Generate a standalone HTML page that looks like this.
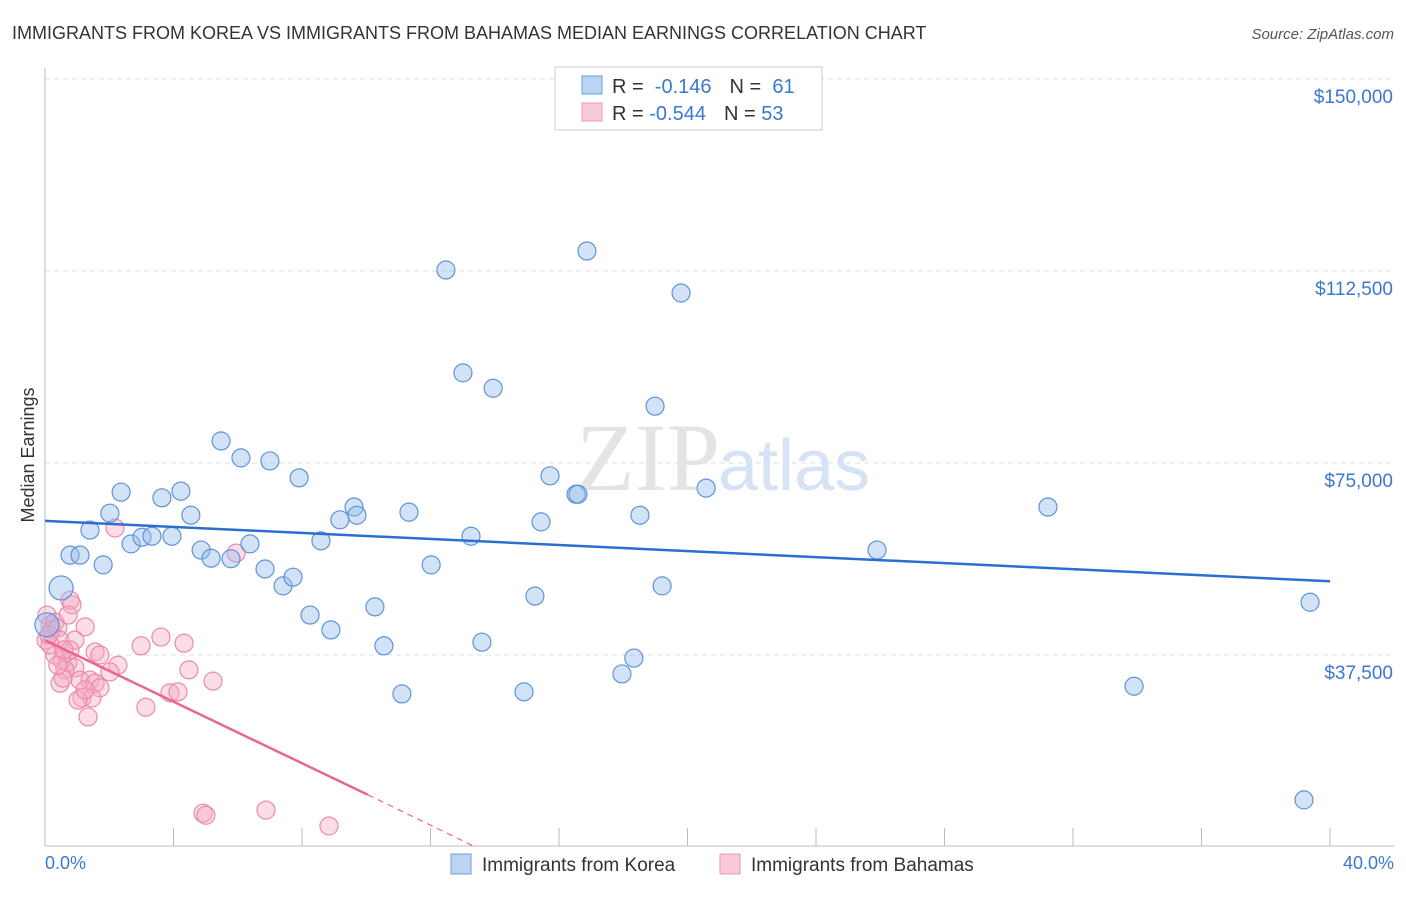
<!DOCTYPE html>
<html><head><meta charset="utf-8"><style>
body{margin:0;background:#fff;font-family:"Liberation Sans",sans-serif;}
</style></head><body>
<svg width="1406" height="892" xmlns="http://www.w3.org/2000/svg" font-family="Liberation Sans, sans-serif">
<text x="12" y="39" font-size="18" fill="#333">IMMIGRANTS FROM KOREA VS IMMIGRANTS FROM BAHAMAS MEDIAN EARNINGS CORRELATION CHART</text>
<text x="1394" y="39" font-size="15" fill="#555" font-style="italic" text-anchor="end">Source: ZipAtlas.com</text>
<g id="grid"></g>
<text x="720" y="490" font-size="96" fill="#e4e4e4" text-anchor="end" font-family="Liberation Serif, serif">ZIP</text>
<text x="718" y="490" font-size="72" fill="#d5e3f5">atlas</text>
<g id="pts"></g>
<g id="lines"></g>
<text transform="translate(34,455) rotate(-90)" font-size="18" fill="#333" text-anchor="middle">Median Earnings</text>
<text x="45" y="869" font-size="18" fill="#3b78d0">0.0%</text>
<text x="1394" y="869" font-size="18" fill="#3b78d0" text-anchor="end">40.0%</text>
<g>
<rect x="555" y="67" width="267" height="63" fill="#fff" stroke="#ccc"/>
<rect x="582" y="76" width="20" height="18" fill="#bcd4f3" stroke="#6c9be0"/>
<rect x="582" y="103" width="20" height="18" fill="#fbcad9" stroke="#ee95b2"/>
<text x="612" y="93" font-size="20" fill="#333">R = <tspan fill="#3b78d0">&#160;-0.146</tspan><tspan dx="18">N = </tspan><tspan fill="#3b78d0">&#160;61</tspan></text>
<text x="612" y="120" font-size="20" fill="#333">R = <tspan fill="#3b78d0">-0.544</tspan><tspan dx="18">N = </tspan><tspan fill="#3b78d0">53</tspan></text>
</g>
<g>
<rect x="451" y="854" width="20" height="20" fill="#bcd4f3" stroke="#6c9be0"/>
<text x="482" y="871" font-size="19" fill="#333">Immigrants from Korea</text>
<rect x="720" y="854" width="20" height="20" fill="#fbcad9" stroke="#ee95b2"/>
<text x="751" y="871" font-size="19" fill="#333">Immigrants from Bahamas</text>
</g>
</svg>
<script>
const yTicks=[37500,75000,112500,150000];
const yTickLabels=["$37,500","$75,000","$112,500","$150,000"];
const koreaX=[0.50,0.06,0.78,1.09,1.81,1.40,2.02,2.37,2.68,3.02,3.33,3.64,3.95,4.23,4.54,4.86,5.17,5.48,5.79,6.10,6.38,6.85,7.00,7.41,7.72,7.91,8.25,8.59,8.90,9.18,9.62,9.71,10.27,10.55,11.11,11.33,12.02,12.48,13.01,13.26,13.60,13.95,14.91,15.25,15.44,15.72,16.53,16.59,16.87,17.96,18.33,18.52,18.99,19.21,19.80,20.58,25.90,31.22,33.90,39.19,39.38];
const koreaY=[50.6,43.4,57.0,57.0,55.1,61.9,65.2,69.3,59.2,60.5,60.7,68.2,60.7,69.5,64.8,58.0,56.4,79.3,56.3,76.0,59.2,54.3,75.4,51.0,52.7,72.1,45.3,59.8,42.4,63.9,66.4,64.8,46.9,39.3,29.9,65.4,55.1,112.7,92.6,60.7,40.0,89.6,30.3,49.0,63.5,72.5,68.9,68.9,116.4,33.8,36.9,64.8,86.1,51.0,108.2,70.1,58.0,66.4,31.4,9.2,47.8];
const bahamasX=[0.06,0.16,0.22,0.31,0.40,0.03,0.47,0.78,0.84,0.72,1.25,0.93,0.31,0.53,0.72,0.93,0.62,1.09,1.40,1.56,1.71,1.15,1.46,1.03,1.34,0.47,0.56,0.78,1.56,2.27,2.18,2.99,3.14,3.61,3.89,4.14,4.33,4.48,5.23,5.95,4.92,5.01,6.88,8.84,2.02,0.16,0.40,0.59,1.71,1.25,0.12];
const bahamasY=[45.3,43.4,42.4,43.9,42.8,40.4,40.4,48.2,47.3,45.3,43.0,40.4,37.5,36.5,36.1,35.0,34.6,32.6,32.6,32.0,31.1,29.1,29.1,28.7,25.4,32.0,33.0,38.5,38.1,35.5,62.3,39.3,27.3,41.0,30.1,30.3,39.8,34.6,32.4,57.4,6.6,6.2,7.2,4.1,34.2,39.5,35.5,38.5,37.5,30.7,41.4];
const koreaTrend=[63.7,51.9]; // $k at 0% and 40%
const bahamasTrend=[40.4,10.2,10.05,13.4]; // start $k, end solid $k, solid end %, zero crossing %
const NS="http://www.w3.org/2000/svg";
const xs=p=>45+p*32.125;
const ys=k=>847-k*1000/37500*192;
function mk(tag,attrs,parent){const e=document.createElementNS(NS,tag);for(const k in attrs)e.setAttribute(k,attrs[k]);parent.appendChild(e);return e;}
const grid=document.getElementById('grid');
let ax=mk('line',{x1:45,y1:68,x2:45,y2:846,stroke:'#bbb'},grid);

let bx=mk('line',{x1:45,y1:846,x2:1394,y2:846,stroke:'#bbb'},grid);

for(let i=1;i<=10;i++){let t=mk('line',{x1:xs(i*4),y1:828,x2:xs(i*4),y2:846,stroke:'#bbb'},grid);
}
yTicks.forEach((v,i)=>{const y=ys(v/1000);
let g=mk('line',{x1:45,y1:y,x2:1394,y2:y,stroke:'#ddd','stroke-dasharray':'5,4'},grid);

let t=mk('text',{x:1393,y:y+24,'font-size':19,fill:'#3b78d0','text-anchor':'end'},grid);t.textContent=yTickLabels[i];
});
const pts=document.getElementById('pts');
bahamasX.forEach((x,i)=>{let c=mk('circle',{cx:xs(x),cy:ys(bahamasY[i]),r:9,fill:'rgba(246,170,196,0.4)',stroke:'#ec8aaa','stroke-width':1.2},pts);
});
koreaX.forEach((x,i)=>{let c=mk('circle',{cx:xs(x),cy:ys(koreaY[i]),r:(i<2?12:9),fill:'rgba(150,188,236,0.42)',stroke:'#5e93d9','stroke-width':1.2},pts);
});
const lines=document.getElementById('lines');
let l1=mk('line',{x1:xs(0),y1:ys(koreaTrend[0]),x2:xs(40),y2:ys(koreaTrend[1]),stroke:'#2a6fd0','stroke-width':2.5},lines);

let l2=mk('line',{x1:xs(0),y1:ys(bahamasTrend[0]),x2:xs(bahamasTrend[2]),y2:ys(bahamasTrend[1]),stroke:'#e8668f','stroke-width':2.5},lines);

let l3=mk('line',{x1:xs(bahamasTrend[2]),y1:ys(bahamasTrend[1]),x2:xs(bahamasTrend[3]),y2:ys(0),stroke:'#e8668f','stroke-width':1.2,'stroke-dasharray':'6,5'},lines);

</script>
</body></html>
